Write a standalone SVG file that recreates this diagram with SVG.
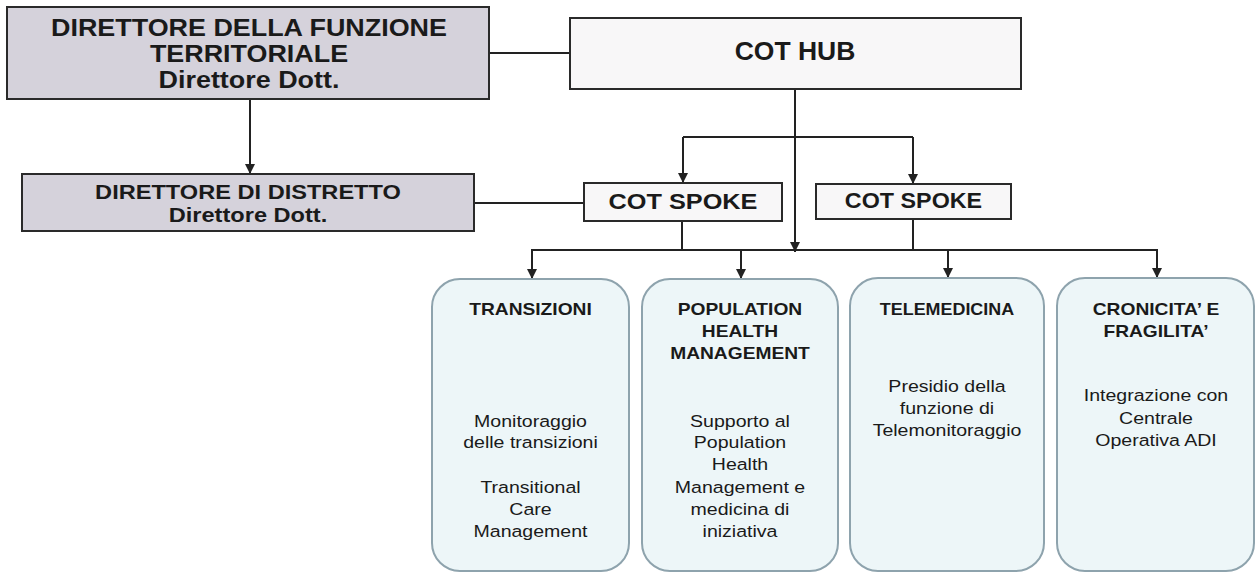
<svg xmlns="http://www.w3.org/2000/svg" width="1256" height="573" viewBox="0 0 1256 573">
<style>
text{font-family:"Liberation Sans",Arial,sans-serif;fill:#1a1a1a;text-anchor:middle}
.grey{fill:#d5d2db;stroke:#2a2a2a;stroke-width:2}
.white{fill:#f8f7f8;stroke:#2a2a2a;stroke-width:2}
.blue{fill:#edf6f8;stroke:#8ea3ad;stroke-width:2}
.t0{font-size:23px;font-weight:bold}
.t1{font-size:25px;font-weight:bold}
.t2{font-size:22px;font-weight:bold}
.t3{font-size:20px;font-weight:bold}
.hd{font-size:16px;font-weight:bold}
.bd{font-size:17px}
.conn line{stroke:#222;stroke-width:2;fill:none}
</style>
<defs>
<marker id="arr" markerUnits="userSpaceOnUse" viewBox="0 0 10 10" refX="10" refY="5" markerWidth="10" markerHeight="10" orient="auto">
<path d="M0,0 L10,5 L0,10 z" fill="#222"/>
</marker>
</defs>
<rect width="1256" height="573" fill="#ffffff"/>

<g class="conn" id="connectors">
<line x1="489" y1="53" x2="570" y2="53"/>
<line x1="474" y1="203" x2="584" y2="203"/>
<line x1="250" y1="99" x2="250" y2="174" marker-end="url(#arr)"/>
<line x1="795" y1="89" x2="795" y2="252" marker-end="url(#arr)"/>
<line x1="683" y1="137" x2="913" y2="137"/>
<line x1="683" y1="137" x2="683" y2="183" marker-end="url(#arr)"/>
<line x1="913" y1="137" x2="913" y2="184" marker-end="url(#arr)"/>
<line x1="682" y1="221" x2="682" y2="250"/>
<line x1="913" y1="219" x2="913" y2="250"/>
<line x1="531" y1="250" x2="1158" y2="250"/>
<line x1="532" y1="250" x2="532" y2="279" marker-end="url(#arr)"/>
<line x1="741" y1="250" x2="741" y2="279" marker-end="url(#arr)"/>
<line x1="948" y1="250" x2="948" y2="278" marker-end="url(#arr)"/>
<line x1="1157" y1="250" x2="1157" y2="278" marker-end="url(#arr)"/>
</g>

<g id="direttore-funzione">
<rect class="grey" x="7" y="7" width="482" height="92"/>
<g transform="matrix(1.17 0 0 1 -42.33 0)">
<text class="t0" x="249" y="36">DIRETTORE DELLA FUNZIONE</text>
<text class="t0" x="249" y="62">TERRITORIALE</text>
<text class="t0" x="249" y="88">Direttore Dott.</text>
</g>
</g>

<g id="direttore-distretto">
<rect class="grey" x="22" y="174" width="452" height="57"/>
<g transform="matrix(1.18 0 0 1 -44.64 0)">
<text class="t3" x="248" y="199">DIRETTORE DI DISTRETTO</text>
<text class="t3" x="248" y="222">Direttore Dott.</text>
</g>
</g>

<g id="cot-hub">
<rect class="white" x="570" y="18" width="451" height="71"/>
<g transform="matrix(1.06 0 0 1 -47.7 0)">
<text class="t1" x="795" y="60">COT HUB</text>
</g>
</g>

<g id="cot-spoke-1">
<rect class="white" x="584" y="183" width="198" height="38"/>
<g transform="matrix(1.15 0 0 1 -102.45 0)">
<text class="t2" x="683" y="209">COT SPOKE</text>
</g>
</g>

<g id="cot-spoke-2">
<rect class="white" x="816" y="184" width="195" height="35"/>
<g transform="matrix(1.06 0 0 1 -54.8 0)">
<text class="t2" x="913.5" y="208">COT SPOKE</text>
</g>
</g>

<g id="transizioni">
<rect class="blue" x="432" y="279" width="197" height="292" rx="28" ry="28"/>
<g transform="matrix(1.2 0 0 1 -106.1 0)">
<text class="hd" x="530.5" y="315">TRANSIZIONI</text>
</g>
<g transform="matrix(1.15 0 0 1 -79.575 0)">
<text class="bd" x="530.5" y="427">Monitoraggio</text>
<text class="bd" x="530.5" y="448">delle transizioni</text>
<text class="bd" x="530.5" y="493">Transitional</text>
<text class="bd" x="530.5" y="515">Care</text>
<text class="bd" x="530.5" y="537">Management</text>
</g>
</g>

<g id="population-health">
<rect class="blue" x="642" y="279" width="196" height="292" rx="28" ry="28"/>
<g transform="matrix(1.2 0 0 1 -148 0)">
<text class="hd" x="740" y="315">POPULATION</text>
<text class="hd" x="740" y="337">HEALTH</text>
<text class="hd" x="740" y="359">MANAGEMENT</text>
</g>
<g transform="matrix(1.15 0 0 1 -111 0)">
<text class="bd" x="740" y="427">Supporto al</text>
<text class="bd" x="740" y="448">Population</text>
<text class="bd" x="740" y="470">Health</text>
<text class="bd" x="740" y="493">Management e</text>
<text class="bd" x="740" y="515">medicina di</text>
<text class="bd" x="740" y="537">iniziativa</text>
</g>
</g>

<g id="telemedicina">
<rect class="blue" x="850" y="278" width="194" height="293" rx="28" ry="28"/>
<g transform="matrix(1.12 0 0 1 -113.64 0)">
<text class="hd" x="947" y="315">TELEMEDICINA</text>
</g>
<g transform="matrix(1.15 0 0 1 -142.05 0)">
<text class="bd" x="947" y="392">Presidio della</text>
<text class="bd" x="947" y="414">funzione di</text>
<text class="bd" x="947" y="436">Telemonitoraggio</text>
</g>
</g>

<g id="cronicita-fragilita">
<rect class="blue" x="1057" y="278" width="197" height="293" rx="28" ry="28"/>
<g transform="matrix(1.2 0 0 1 -231.2 0)">
<text class="hd" x="1156" y="315">CRONICITA’ E</text>
<text class="hd" x="1156" y="337">FRAGILITA’</text>
</g>
<g transform="matrix(1.15 0 0 1 -173.4 0)">
<text class="bd" x="1156" y="401">Integrazione con</text>
<text class="bd" x="1156" y="424">Centrale</text>
<text class="bd" x="1156" y="446">Operativa ADI</text>
</g>
</g>
</svg>
